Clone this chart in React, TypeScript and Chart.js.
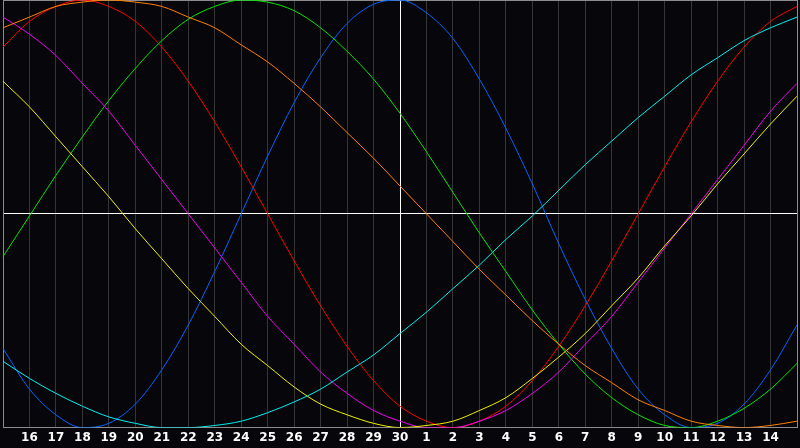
import React, { useEffect, useRef } from 'react';
import { Chart, registerables } from 'chart.js';

Chart.register(...registerables);

// Day labels: index 0 and 30 are the 15th (unlabelled edges)
const dayLabels = ['', '16', '17', '18', '19', '20', '21', '22', '23', '24', '25', '26', '27', '28', '29', '30',
  '1', '2', '3', '4', '5', '6', '7', '8', '9', '10', '11', '12', '13', '14', ''];

// Blue (23-day)
const physical = [-63, -82, -94, -100, -98, -89, -73, -52, -27, 0, 27, 52, 73, 89, 98, 100,
  94, 82, 63, 40, 14, -14, -40, -63, -82, -94, -100, -98, -89, -73, -52];
// Red (28-day)
const emotional = [78, 90, 97, 100, 97, 90, 78, 62, 43, 22, 0, -22, -43, -62, -78, -90,
  -97, -100, -97, -90, -78, -62, -43, -22, 0, 22, 43, 62, 78, 90, 97];
// Green (33-day)
const intellectual = [-20, -1, 18, 36, 53, 68, 81, 91, 97, 100, 99, 95, 87, 76, 63, 47,
  29, 10, -9, -27, -45, -61, -75, -86, -94, -99, -100, -97, -91, -82, -70];
// Magenta (38-day)
const intuitive = [92, 84, 74, 61, 48, 32, 16, 0, -16, -32, -48, -61, -74, -84, -92, -97,
  -100, -100, -97, -92, -84, -74, -61, -48, -32, -16, 0, 16, 32, 48, 61];
// Yellow (43-day)
const aesthetic = [62, 50, 36, 22, 8, -7, -21, -35, -48, -61, -71, -81, -89, -94, -98, -100,
  -99, -97, -92, -86, -77, -67, -56, -43, -30, -15, -1, 14, 28, 42, 55];
// Orange (48-day)
const awareness = [87, 92, 97, 99, 100, 99, 97, 92, 87, 79, 71, 61, 50, 38, 26, 13,
  0, -13, -26, -38, -50, -61, -71, -79, -87, -92, -97, -99, -100, -99, -97];
// Cyan (53-day)
const spiritual = [-69, -77, -84, -90, -95, -98, -100, -100, -99, -97, -93, -88, -82, -74, -66, -56,
  -46, -35, -24, -12, -1, 11, 23, 34, 45, 55, 65, 73, 81, 87, 92];

const FRAME = '#8c8c8c';
const GRID = '#363636';
const BG = '#07070b';

export default function App() {
  const ref = useRef<HTMLCanvasElement>(null);

  useEffect(() => {
    if (!ref.current) return;
    const mk = (label: string, data: number[], color: string) => ({
      label,
      data,
      borderColor: color,
      backgroundColor: color,
      borderWidth: 1,
      pointRadius: 0,
      cubicInterpolationMode: 'monotone' as const,
      fill: false,
    });
    const chart = new Chart(ref.current, {
      type: 'line',
      data: {
        labels: dayLabels,
        datasets: [
          mk('Spiritual', spiritual, '#00f0f0'),
          mk('Awareness', awareness, '#ff8000'),
          mk('Aesthetic', aesthetic, '#f0f000'),
          mk('Intuitive', intuitive, '#f000f0'),
          mk('Intellectual', intellectual, '#00e600'),
          mk('Emotional', emotional, '#ff0000'),
          mk('Physical', physical, '#0066ff'),
        ],
      },
      options: {
        responsive: false,
        animation: false,
        layout: { padding: { left: 0, right: 1, top: 0, bottom: 0 } },
        plugins: {
          legend: { display: false },
          tooltip: { enabled: false },
        },
        scales: {
          x: {
            type: 'category',
            offset: false,
            border: { display: true, color: FRAME, width: 1 },
            grid: {
              drawTicks: false,
              color: (ctx: any) =>
                ctx.index === 15 ? '#ffffff' : ctx.index === 0 || ctx.index === 30 ? FRAME : GRID,
              lineWidth: 1,
            },
            ticks: {
              autoSkip: false,
              maxRotation: 0,
              minRotation: 0,
              padding: 3,
              color: '#ffffff',
              font: { family: 'DejaVu Sans', size: 12, weight: 'bold' },
            },
          },
          y: {
            min: -100,
            max: 100,
            border: { display: true, color: FRAME, width: 1 },
            grid: {
              drawTicks: false,
              color: (ctx: any) =>
                ctx.tick && ctx.tick.value === 0 ? '#ffffff' : FRAME,
              lineWidth: 1,
            },
            ticks: { display: false, stepSize: 100 },
          },
        },
      },
    });
    return () => chart.destroy();
  }, []);

  return (
    <div style={{ position: 'fixed', left: 0, top: 0, width: 800, height: 448, background: BG }}>
      <canvas ref={ref} width={800} height={448} style={{ display: 'block' }} />
    </div>
  );
}
